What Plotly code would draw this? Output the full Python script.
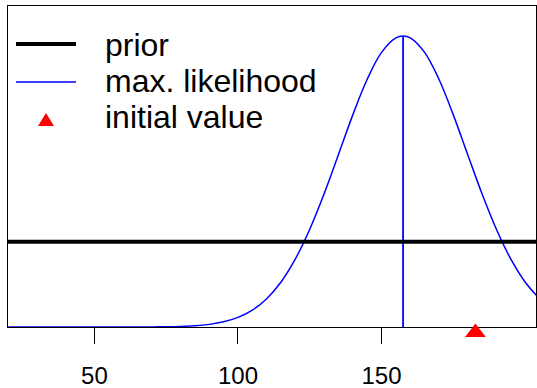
import plotly.graph_objects as go

# ---- data ----
x_vals = [20, 25, 30, 35, 40, 45, 50, 55, 60, 65, 70, 75, 80, 85, 90, 95, 100, 105,
          110, 115, 120, 125, 130, 135, 140, 145, 150, 155, 157.5, 160, 165, 170,
          175, 180, 185, 190, 195, 200, 205]
likelihood = [0, 0, 0, 0, 0, 0, 0, 0, 0.000001, 0.000003, 0.0000067, 0.000016, 0.0000366,
              0.000079, 0.000164, 0.000321, 0.000596, 0.001052, 0.001763, 0.002805,
              0.004242, 0.006092, 0.008302, 0.010749, 0.013217, 0.015434, 0.01711,
              0.018018, 0.018135, 0.018018, 0.01711, 0.015434, 0.013217, 0.010749,
              0.008302, 0.006092, 0.004242, 0.002805, 0.001763]
prior_value = 0.00531
mle_x = 157.5
mle_peak = 0.018135
initial_x = 182.7
x_ticks = [50, 100, 150]
x_range = [19.9, 203.8]
y_range = [0, 0.02]
legend_labels = ["prior", "max. likelihood", "initial value"]

W, H = 537, 388
L, R, T, B = 8, 1, 6, 45
pw, ph = W - L - R, H - T - B          # plot area (incl. strip below the axis)
axis_bottom_px = 327                    # pixel row of the x axis
y_dom0 = (H - B - axis_bottom_px) / ph  # main y-axis domain start
marker_row = 332.5                      # pixel row of the initial-value marker centre
marker_y2 = (H - B - marker_row) / ph   # position on the helper axis (0..1)

fig = go.Figure()
fig.add_trace(go.Scatter(x=x_vals, y=likelihood, mode="lines",
                         line=dict(color="#0000ff", width=1.5, shape="spline"),
                         showlegend=False, hoverinfo="skip"))
fig.add_trace(go.Scatter(x=[mle_x, mle_x], y=[0, mle_peak], mode="lines",
                         line=dict(color="#0000ff", width=1.8),
                         showlegend=False, hoverinfo="skip"))
fig.add_trace(go.Scatter(x=[0, 300], y=[prior_value, prior_value], mode="lines",
                         line=dict(color="black", width=4),
                         showlegend=False, hoverinfo="skip"))
fig.add_trace(go.Scatter(x=[initial_x], y=[marker_y2], xaxis="x2", yaxis="y2",
                         mode="markers",
                         marker=dict(symbol="triangle-up", size=18, color="#ff0000",
                                     line=dict(width=0)),
                         cliponaxis=False, showlegend=False, hoverinfo="skip"))


def px(xp):
    return (xp - L) / pw


def py(yp):
    return (H - B - yp) / ph


shapes = [
    dict(type="line", xref="paper", yref="paper", x0=px(16), x1=px(76), y0=py(44), y1=py(44),
         line=dict(color="black", width=4)),
    dict(type="line", xref="paper", yref="paper", x0=px(16), x1=px(76), y0=py(82), y1=py(82),
         line=dict(color="#0000ff", width=1.5)),
    dict(type="path", xref="paper", yref="paper",
         path=f"M {px(38)},{py(126)} L {px(54)},{py(126)} L {px(46)},{py(113)} Z",
         fillcolor="#ff0000", line=dict(width=0)),
]
annotations = []
for lab, yc in zip(legend_labels, [45, 81, 117]):
    annotations.append(dict(text=lab, xref="paper", yref="paper", x=px(103), y=py(yc),
                            xanchor="left", yanchor="middle", showarrow=False,
                            font=dict(size=32, color="black",
                                      family="Liberation Sans, Arial, sans-serif")))

fig.update_layout(
    width=W, height=H,
    margin=dict(l=L, r=R, t=T, b=B, autoexpand=False),
    paper_bgcolor="white", plot_bgcolor="rgba(0,0,0,0)",
    font=dict(family="Liberation Sans, Arial, sans-serif", color="black"),
    shapes=shapes, annotations=annotations,
    xaxis=dict(range=x_range, tickmode="array", tickvals=x_ticks,
               ticktext=[str(t) for t in x_ticks], anchor="y",
               ticks="outside", ticklen=16, tickwidth=1, tickcolor="#000000",
               showline=True, mirror=True, linecolor="black", linewidth=1,
               showgrid=False, zeroline=False, tickfont=dict(size=24),
               ticklabelstandoff=11, automargin=False),
    # helper axis at the bottom of the tick strip: draws the tick marks upward
    xaxis2=dict(range=x_range, overlaying="x", anchor="y2", side="bottom",
                tickmode="array", tickvals=x_ticks, showticklabels=False,
                ticks="inside", ticklen=16, tickwidth=1, tickcolor="#000000",
                showline=False, showgrid=False, zeroline=False, automargin=False,
                fixedrange=True),
    yaxis=dict(range=y_range, domain=[y_dom0, 1], showticklabels=False, ticks="",
               showline=True, mirror=True, linecolor="black", linewidth=1,
               showgrid=False, zeroline=False, automargin=False),
    yaxis2=dict(range=[0, 1], domain=[0, 1], anchor="x2",
                visible=False, fixedrange=True),
)

fig.write_html("out.html", config={"displayModeBar": False},
               post_script="document.body.style.margin='0';document.body.style.overflow='hidden';")
